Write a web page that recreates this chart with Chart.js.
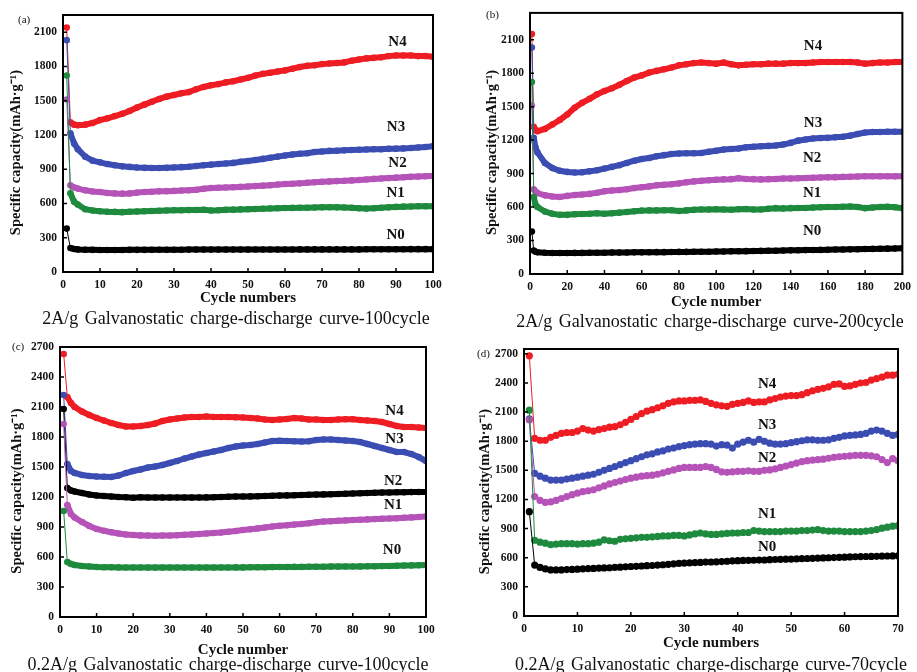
<!DOCTYPE html>
<html lang="en">
<head>
<meta charset="UTF-8">
<script src="https://cdn.jsdelivr.net/npm/chart.js@4.4.1/dist/chart.umd.min.js"></script>
<style>
  body { margin: 0; background: #fff; width: 917px; height: 672px; overflow: hidden; position: relative; font-family: "Liberation Serif", "Times New Roman", serif; }
  canvas { position: absolute; }
  .sub { position: absolute; font-size: 18px; white-space: nowrap; transform: translate(-50%, -50%); color: #111; word-spacing: 2px; }
  .tag { position: absolute; font-size: 11px; color: #111; }
</style>
<title>Galvanostatic charge-discharge curves</title>
</head>
<body>
<canvas id="chartA" width="458" height="310" style="left:0;top:0"></canvas>
<canvas id="chartB" width="457" height="312" style="left:460px;top:0"></canvas>
<canvas id="chartC" width="460" height="342" style="left:0;top:330px"></canvas>
<canvas id="chartD" width="457" height="342" style="left:460px;top:330px"></canvas>

<div class="tag" style="left:18px;top:13px">(a)</div>
<div class="tag" style="left:486px;top:8px">(b)</div>
<div class="tag" style="left:12px;top:340px">(c)</div>
<div class="tag" style="left:477px;top:347px">(d)</div>

<div class="sub" style="left:236px;top:318px">2A/g Galvanostatic charge-discharge curve-100cycle</div>
<div class="sub" style="left:710px;top:321px">2A/g Galvanostatic charge-discharge curve-200cycle</div>
<div class="sub" style="left:228px;top:664px">0.2A/g Galvanostatic charge-discharge curve-100cycle</div>
<div class="sub" style="left:711px;top:664px">0.2A/g Galvanostatic charge-discharge curve-70cycle</div>

<script>
// y tick labels shared by all panels
const yTicksAB = [0, 300, 600, 900, 1200, 1500, 1800, 2100];
const yTicksCD = [0, 300, 600, 900, 1200, 1500, 1800, 2100, 2400, 2700];

// ---- data (a): 2A/g, 100 cycles ----
const cyclesA = [1,2,3,4,6,8,10,12,14,16,18,20,22,24,26,28,30,32,34,36,38,40,42,44,46,48,50,52,54,56,58,60,62,64,66,68,70,72,74,76,78,80,82,84,86,88,90,92,94,96,98,100];
const aN4 = [2140,1310,1290,1285,1290,1305,1330,1345,1365,1385,1410,1440,1465,1490,1515,1535,1550,1565,1575,1600,1620,1635,1645,1660,1670,1685,1700,1720,1735,1745,1755,1765,1780,1795,1805,1810,1820,1825,1830,1835,1850,1860,1870,1875,1880,1890,1895,1895,1895,1890,1890,1885];
const aN3 = [2030,1215,1125,1075,1010,975,960,945,935,925,920,915,912,910,910,912,915,918,922,928,935,940,945,950,955,965,972,980,990,1000,1010,1020,1028,1035,1040,1050,1055,1060,1062,1065,1068,1070,1072,1075,1075,1078,1080,1082,1085,1090,1095,1100];
const aN2 = [1510,760,740,730,715,705,700,692,688,686,688,695,700,703,706,708,710,713,716,720,728,735,738,740,742,745,748,752,756,760,765,770,773,776,782,786,790,793,796,798,802,805,810,815,818,822,826,830,833,836,838,840];
const aN1 = [1720,690,615,590,550,538,532,528,526,524,527,530,532,534,536,538,540,541,542,543,544,538,540,544,546,548,550,552,554,556,558,560,561,562,563,565,566,567,566,565,562,558,555,558,562,566,570,572,574,575,575,575];
const aN0 = [380,210,202,198,195,194,193,193,193,193,194,194,194,195,195,195,195,195,196,196,196,196,196,196,196,196,196,197,197,197,197,197,197,198,198,198,198,198,198,198,198,198,199,199,199,199,199,199,200,200,200,200];

// ---- data (b): 2A/g, 200 cycles ----
const cyclesB = [1,2,3,4,8,12,16,20,24,28,32,36,40,44,48,52,56,60,64,68,72,76,80,84,88,92,96,100,104,108,112,116,120,124,128,132,136,140,144,148,152,156,160,164,168,172,176,180,184,188,192,196,200];
const bN4 = [2150,1320,1290,1280,1300,1340,1380,1430,1490,1535,1570,1610,1640,1665,1695,1730,1760,1780,1805,1820,1835,1850,1870,1880,1890,1895,1890,1885,1895,1880,1870,1875,1880,1880,1885,1885,1885,1890,1890,1890,1895,1900,1900,1900,1900,1900,1895,1885,1890,1895,1895,1900,1900];
const bN3 = [2030,1220,1130,1090,995,950,925,915,910,912,920,930,945,960,975,995,1015,1030,1040,1055,1065,1075,1080,1082,1082,1085,1095,1105,1115,1120,1125,1135,1140,1145,1148,1152,1160,1175,1195,1205,1215,1218,1220,1225,1230,1240,1255,1268,1272,1272,1275,1275,1275];
const bN2 = [1510,760,740,725,705,695,690,700,708,712,718,728,742,748,752,760,770,778,785,795,800,805,812,822,830,835,840,845,848,850,858,852,850,848,850,852,855,855,858,860,862,865,866,868,870,872,874,876,876,876,876,875,875];
const bN1 = [1720,690,620,600,560,540,530,530,535,538,540,545,540,545,550,555,562,568,570,570,572,572,565,570,575,578,578,580,578,576,580,582,578,578,585,590,588,590,592,592,595,598,600,600,602,605,600,590,595,600,602,598,590];
const bN0 = [380,210,200,195,190,188,188,188,189,189,190,190,191,192,192,193,194,194,195,196,196,197,198,198,199,200,200,201,202,203,204,205,206,207,208,209,210,212,213,214,215,216,218,219,220,221,222,224,225,226,227,228,230];

// ---- data (c): 0.2A/g, 100 cycles ----
const cyclesC = [1,2,3,4,6,8,10,12,14,16,18,20,22,24,26,28,30,32,34,36,38,40,42,44,46,48,50,52,54,56,58,60,62,64,66,68,70,72,74,76,78,80,82,84,86,88,90,92,94,96,98,100];
const cN4 = [2630,2200,2140,2100,2055,2020,1990,1965,1940,1920,1905,1905,1910,1920,1935,1960,1975,1985,1995,2000,2000,2005,2000,2000,2000,1998,1995,1990,1985,1975,1970,1975,1980,1990,1985,1975,1975,1970,1970,1975,1978,1978,1970,1965,1960,1950,1930,1910,1900,1900,1895,1890];
const cN3 = [2220,1530,1460,1440,1420,1410,1405,1402,1400,1415,1440,1460,1475,1495,1505,1520,1540,1560,1585,1605,1625,1640,1655,1670,1690,1705,1715,1720,1730,1745,1760,1762,1760,1758,1755,1758,1770,1775,1775,1770,1765,1760,1750,1730,1710,1690,1670,1650,1650,1630,1600,1560];
const cN2 = [2080,1290,1265,1255,1240,1225,1215,1210,1205,1200,1198,1192,1198,1195,1195,1195,1195,1195,1195,1194,1195,1196,1198,1200,1202,1204,1205,1206,1208,1210,1212,1214,1216,1218,1220,1222,1224,1226,1228,1230,1232,1235,1237,1240,1242,1244,1245,1247,1248,1249,1250,1250];
const cN1 = [1930,1120,1030,995,950,910,880,862,848,835,825,820,816,814,813,814,815,818,822,826,830,835,840,845,852,860,870,878,886,895,905,912,918,924,930,938,948,954,958,962,966,970,973,976,979,982,985,988,992,996,1000,1005];
const cN0 = [1060,550,530,520,510,505,500,498,497,496,495,495,495,494,494,494,495,495,495,495,495,494,494,495,495,496,496,497,497,498,499,500,500,501,501,502,503,503,504,504,505,505,506,507,508,509,510,512,514,516,518,520];

// ---- data (d): 0.2A/g, 70 cycles ----
const cyclesD = [1,2,3,4,5,6,7,8,9,10,11,12,13,14,15,16,17,18,19,20,21,22,23,24,25,26,27,28,29,30,31,32,33,34,35,36,37,38,39,40,41,42,43,44,45,46,47,48,49,50,51,52,53,54,55,56,57,58,59,60,61,62,63,64,65,66,67,68,69,70];
const dN4 = [2680,1830,1810,1810,1840,1860,1880,1890,1890,1905,1930,1915,1905,1920,1930,1945,1950,1970,1995,2025,2055,2085,2110,2125,2145,2165,2190,2205,2215,2215,2220,2220,2225,2210,2190,2175,2165,2160,2180,2190,2200,2215,2200,2205,2205,2225,2240,2255,2265,2270,2270,2280,2300,2320,2335,2345,2360,2385,2390,2365,2370,2385,2400,2405,2430,2445,2460,2480,2480,2490];
const dN3 = [2030,1470,1440,1420,1400,1400,1400,1410,1420,1430,1440,1450,1460,1480,1500,1520,1540,1560,1580,1600,1620,1640,1660,1670,1690,1700,1720,1730,1745,1755,1765,1770,1775,1775,1770,1750,1765,1760,1730,1770,1790,1810,1790,1820,1800,1780,1770,1770,1775,1785,1795,1805,1815,1815,1810,1810,1815,1830,1840,1855,1860,1865,1870,1880,1905,1915,1905,1880,1860,1870];
const dN2 = [2020,1230,1190,1170,1175,1190,1210,1230,1250,1265,1280,1290,1300,1320,1340,1360,1375,1390,1405,1420,1430,1440,1445,1450,1460,1475,1490,1505,1520,1530,1530,1530,1530,1540,1530,1510,1485,1480,1485,1490,1490,1495,1490,1490,1500,1505,1515,1530,1545,1560,1575,1590,1600,1605,1610,1615,1625,1635,1640,1645,1650,1655,1655,1655,1650,1640,1610,1580,1620,1600];
const dN1 = [2120,780,760,750,735,740,745,745,745,740,745,745,750,760,785,775,770,790,795,800,805,810,810,815,820,825,825,830,830,825,835,845,855,845,840,840,845,850,855,855,860,860,880,875,870,870,870,870,875,875,875,880,880,885,890,880,875,875,875,870,870,870,870,875,880,890,905,915,925,930];
const dN0 = [1075,525,500,485,475,475,475,478,480,482,485,488,490,493,495,497,500,503,506,510,512,515,518,520,525,528,532,537,541,545,547,550,552,555,556,558,561,564,567,570,572,573,574,576,577,580,582,584,585,586,588,590,592,594,596,598,600,602,604,606,608,610,612,613,614,615,616,618,619,620];

const RED = '#ee1d23', BLUE = '#3b4db3', MAGENTA = '#b653b8', GREEN = '#1e8a3d', BLACK = '#000000';
const SERIF = '"Liberation Serif", "Times New Roman", serif';

// box, inward ticks and curve names
const framePlugin = {
  id: 'frame',
  afterDraw(chart, args, opts) {
    const { ctx, chartArea: a, scales } = chart;
    ctx.save();
    ctx.strokeStyle = '#000';
    ctx.lineWidth = 1.5;
    ctx.beginPath();
    scales.x.ticks.forEach(t => {
      const px = scales.x.getPixelForValue(t.value);
      ctx.moveTo(px, a.bottom); ctx.lineTo(px, a.bottom - 4);
    });
    scales.y.ticks.forEach(t => {
      const py = scales.y.getPixelForValue(t.value);
      ctx.moveTo(a.left, py); ctx.lineTo(a.left + 4, py);
    });
    ctx.stroke();
    ctx.lineWidth = 2;
    ctx.strokeRect(a.left, a.top, a.right - a.left, a.bottom - a.top);
    ctx.fillStyle = '#111';
    ctx.font = 'bold 15px ' + SERIF;
    ctx.textAlign = 'center';
    ctx.textBaseline = 'middle';
    (opts.names || []).forEach(n => {
      ctx.fillText(n.text, scales.x.getPixelForValue(n.x), scales.y.getPixelForValue(n.y));
    });
    ctx.restore();
  }
};

function makeChart(id, g) {
  const datasets = g.series.map(s => ({
    label: s.name,
    data: g.cycles.map((c, i) => ({ x: c, y: s.values[i] })),
    borderColor: s.color,
    backgroundColor: s.color,
    pointBackgroundColor: s.color,
    pointBorderWidth: 0,
    pointRadius: g.dot,
    borderWidth: g.line,
    segment: { borderWidth: ctx => ctx.p0DataIndex === 0 ? 1 : g.line },
    tension: 0
  }));
  return new Chart(document.getElementById(id), {
    type: 'line',
    data: { datasets },
    plugins: [framePlugin],
    options: {
      responsive: false,
      animation: false,
      layout: { padding: g.pad },
      plugins: { legend: { display: false }, tooltip: { enabled: false }, frame: { names: g.names } },
      scales: {
        x: {
          type: 'linear', min: 0, max: g.xMax,
          grid: { display: false, drawTicks: false },
          border: { display: false },
          ticks: { stepSize: g.xStep, padding: 6, color: '#111', font: { family: SERIF, size: 11.5, weight: 'bold' }, callback: v => String(v) },
          title: { display: true, text: g.xTitle, color: '#111', padding: { top: 0, bottom: 0 }, font: { family: SERIF, size: 15, weight: 'bold' } },
          afterFit: s => { s.height = g.xH; }
        },
        y: {
          type: 'linear', min: 0, max: g.yMax,
          grid: { display: false, drawTicks: false },
          border: { display: false },
          ticks: { padding: 6, color: '#111', font: { family: SERIF, size: 11.5, weight: 'bold' }, callback: v => String(v) },
          afterBuildTicks: s => { s.ticks = g.yTicks.map(v => ({ value: v })); },
          // trailing spaces push the visible title a little below the middle, as in the figure
          title: { display: true, text: 'Specific capacity(mAh·g⁻¹)\u00a0\u00a0\u00a0\u00a0\u00a0', color: '#111', padding: { top: g.yTitlePad, bottom: 0 }, font: { family: SERIF, size: 14.5, weight: 'bold' } },
          afterFit: s => { s.width = g.yW; }
        }
      }
    }
  });
}

makeChart('chartA', {
  cycles: cyclesA, xMax: 100, xStep: 10, yMax: 2250, yTicks: yTicksAB, xTitle: 'Cycle numbers',
  pad: { left: 0, top: 15, right: 25, bottom: 3 }, yW: 63, xH: 35, yTitlePad: 7.3, dot: 3.3, line: 6,
  series: [
    { name: 'N0', values: aN0, color: BLACK },
    { name: 'N1', values: aN1, color: GREEN },
    { name: 'N2', values: aN2, color: MAGENTA },
    { name: 'N3', values: aN3, color: BLUE },
    { name: 'N4', values: aN4, color: RED }
  ],
  names: [
    { text: 'N4', x: 90.4, y: 2010 }, { text: 'N3', x: 90, y: 1270 }, { text: 'N2', x: 90.4, y: 957 },
    { text: 'N1', x: 89.9, y: 691 }, { text: 'N0', x: 89.9, y: 321 }
  ]
});

makeChart('chartB', {
  cycles: cyclesB, xMax: 200, xStep: 20, yMax: 2340, yTicks: yTicksAB, xTitle: 'Cycle number',
  pad: { left: 0, top: 11, right: 14, bottom: 1 }, yW: 70, xH: 37, yTitlePad: 23.3, dot: 3.3, line: 6,
  series: [
    { name: 'N0', values: bN0, color: BLACK },
    { name: 'N1', values: bN1, color: GREEN },
    { name: 'N2', values: bN2, color: MAGENTA },
    { name: 'N3', values: bN3, color: BLUE },
    { name: 'N4', values: bN4, color: RED }
  ],
  names: [
    { text: 'N4', x: 152, y: 2040 }, { text: 'N3', x: 152, y: 1348 }, { text: 'N2', x: 151.5, y: 1040 },
    { text: 'N1', x: 151.5, y: 725 }, { text: 'N0', x: 151.5, y: 386 }
  ]
});

makeChart('chartC', {
  cycles: cyclesC, xMax: 100, xStep: 10, yMax: 2700, yTicks: yTicksCD, xTitle: 'Cycle number',
  pad: { left: 0, top: 17, right: 34, bottom: 13 }, yW: 60, xH: 42, yTitlePad: 8.3, dot: 3.3, line: 6,
  series: [
    { name: 'N0', values: cN0, color: GREEN },
    { name: 'N1', values: cN1, color: MAGENTA },
    { name: 'N2', values: cN2, color: BLACK },
    { name: 'N3', values: cN3, color: BLUE },
    { name: 'N4', values: cN4, color: RED }
  ],
  names: [
    { text: 'N4', x: 91.4, y: 2057 }, { text: 'N3', x: 91.4, y: 1783 }, { text: 'N2', x: 91, y: 1360 },
    { text: 'N1', x: 91, y: 1117 }, { text: 'N0', x: 90.7, y: 667 }
  ]
});

makeChart('chartD', {
  cycles: cyclesD, xMax: 70, xStep: 10, yMax: 2750, yTicks: yTicksCD, xTitle: 'Cycle numbers',
  pad: { left: 0, top: 19, right: 19, bottom: 20 }, yW: 64, xH: 36, yTitlePad: 16.3, dot: 3.6, line: 2,
  series: [
    { name: 'N0', values: dN0, color: BLACK },
    { name: 'N1', values: dN1, color: GREEN },
    { name: 'N2', values: dN2, color: MAGENTA },
    { name: 'N3', values: dN3, color: BLUE },
    { name: 'N4', values: dN4, color: RED }
  ],
  names: [
    { text: 'N4', x: 45.5, y: 2391 }, { text: 'N3', x: 45.5, y: 1961 }, { text: 'N2', x: 45.5, y: 1631 },
    { text: 'N1', x: 45.5, y: 1053 }, { text: 'N0', x: 45.5, y: 709 }
  ]
});
</script>
</body>
</html>
